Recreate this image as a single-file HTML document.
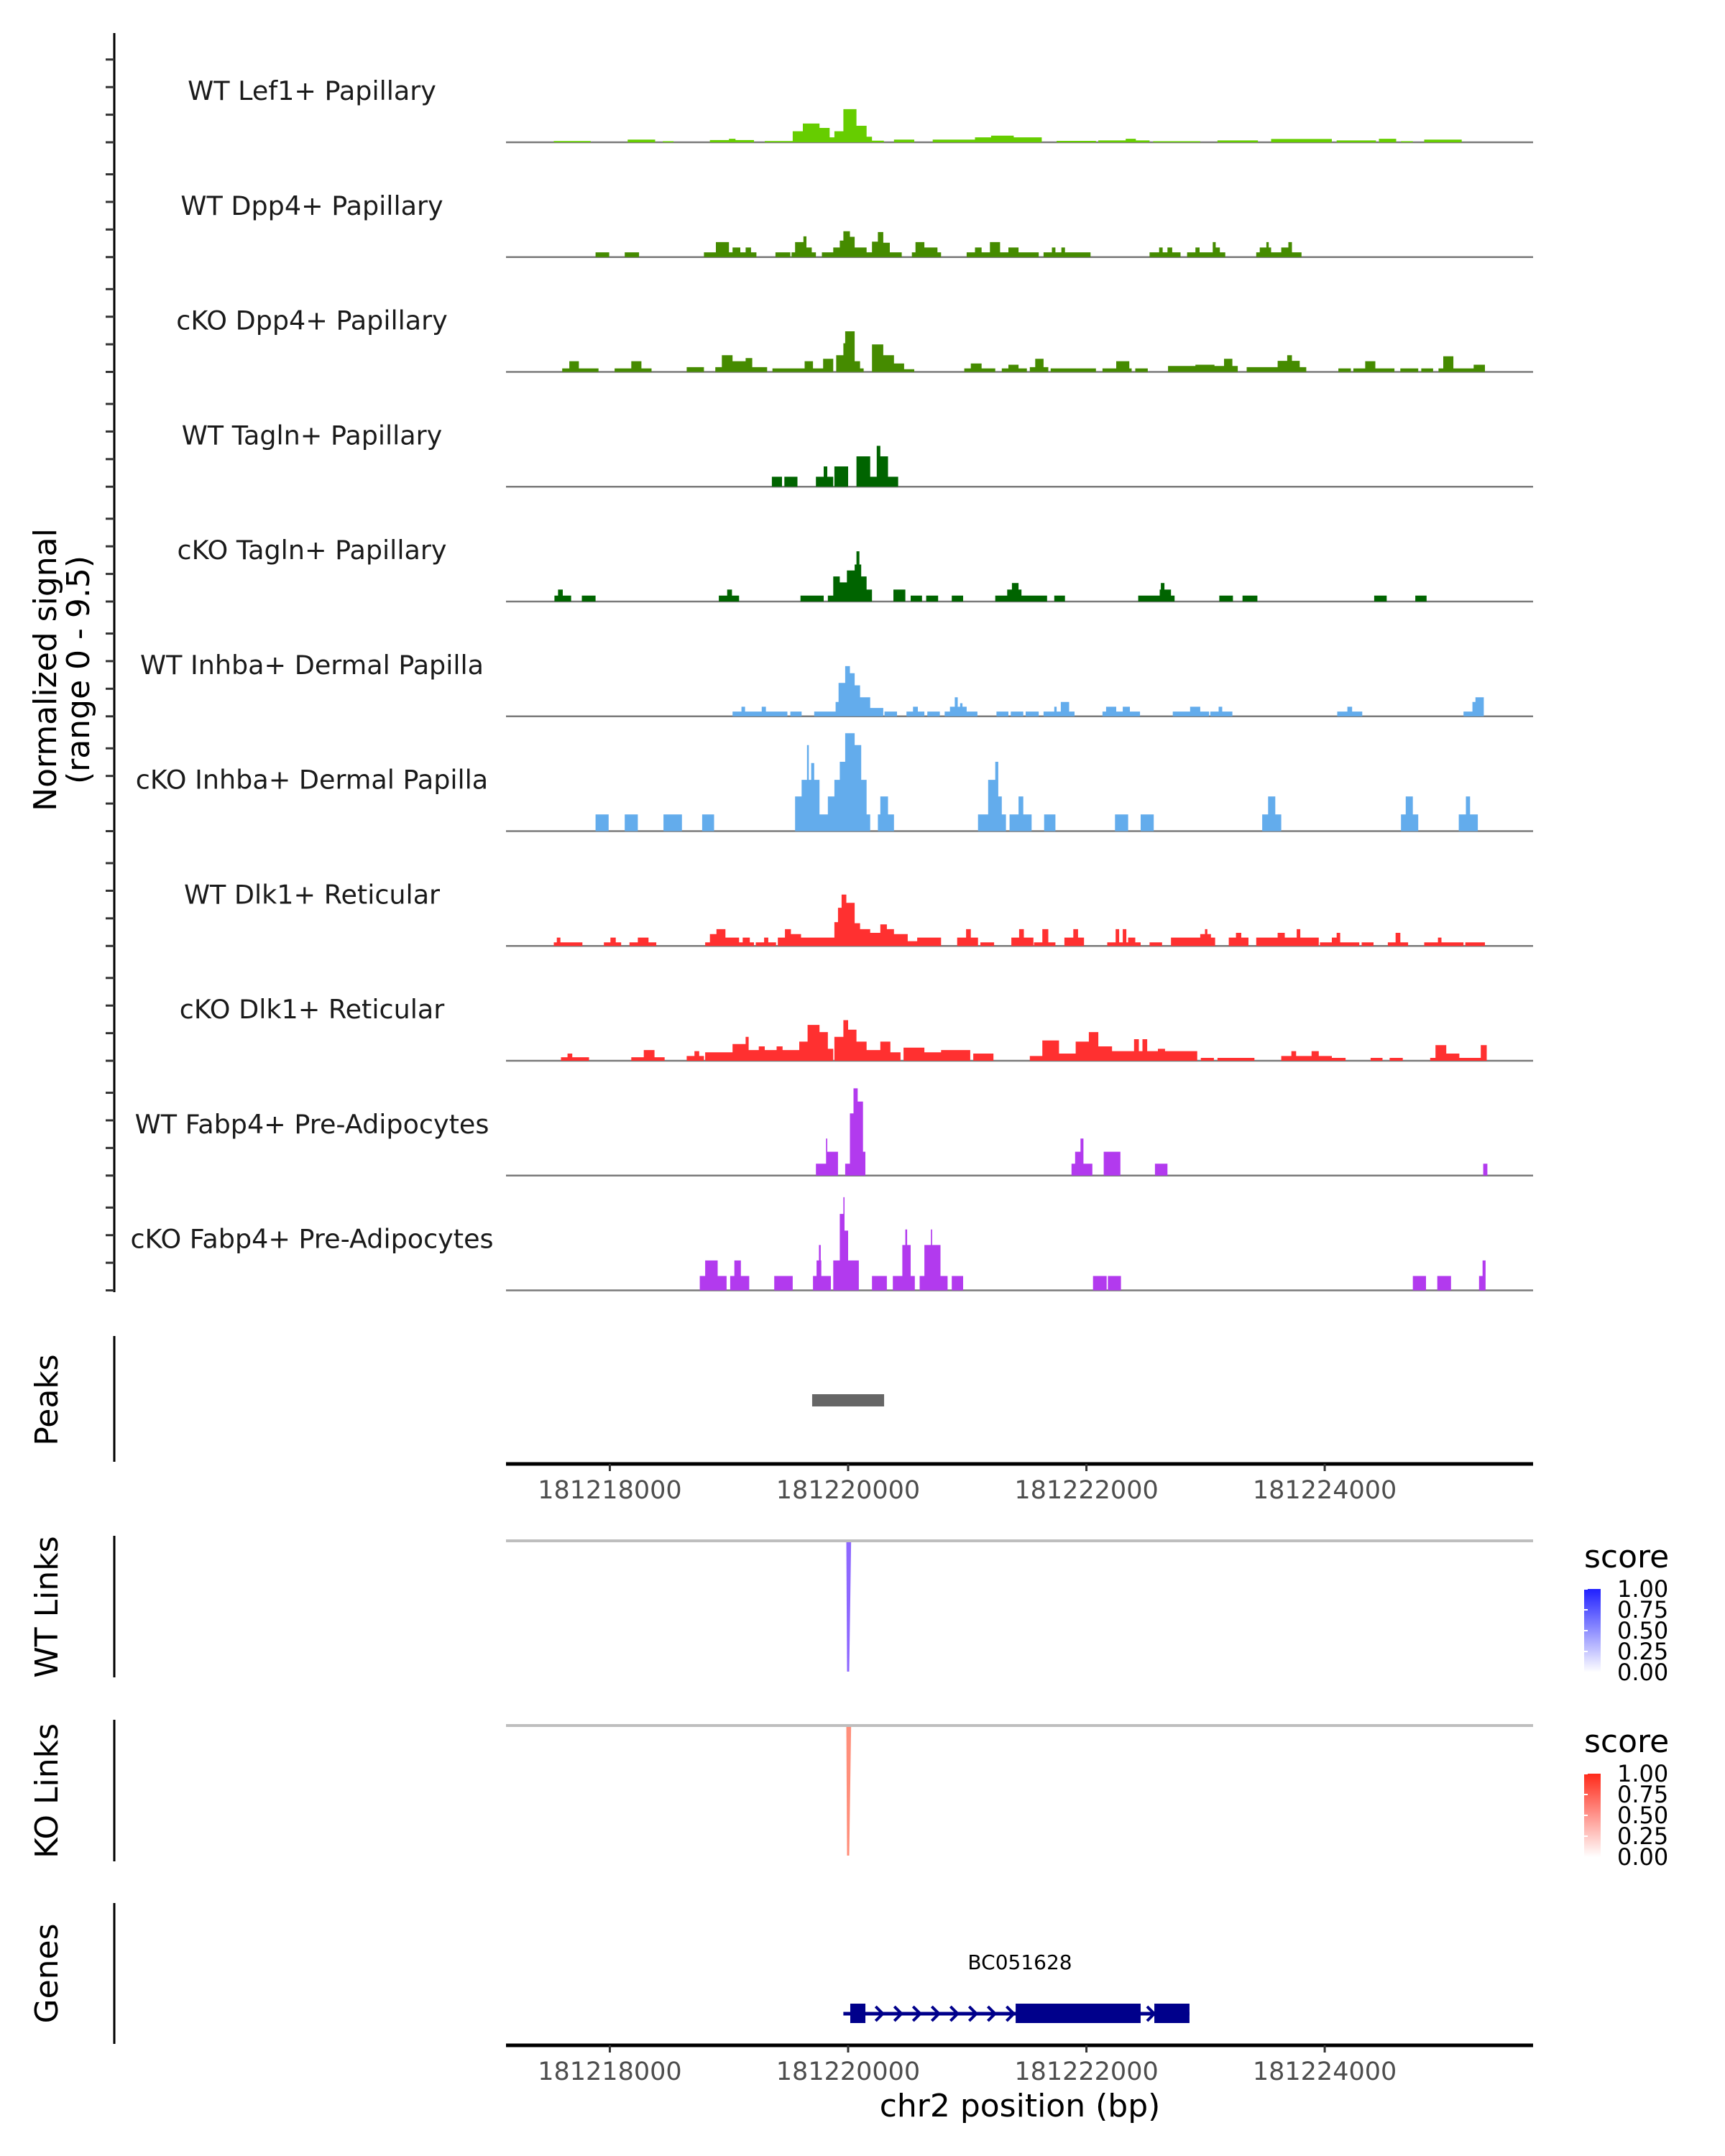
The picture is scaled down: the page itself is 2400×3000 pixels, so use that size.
<!DOCTYPE html>
<html><head><meta charset="utf-8">
<style>
html,body{margin:0;padding:0;background:#fff;}
svg{display:block;font-family:"DejaVu Sans","Liberation Sans",sans-serif;}
</style></head>
<body>
<svg id="chart" xmlns="http://www.w3.org/2000/svg" width="2400" height="3000" viewBox="0 0 2400 3000">
<defs>
<linearGradient id="gradBlue" x1="0" y1="1" x2="0" y2="0"><stop offset="0" stop-color="#ffffff"/><stop offset="1" stop-color="#2020ff"/></linearGradient>
<linearGradient id="gradRed" x1="0" y1="1" x2="0" y2="0"><stop offset="0" stop-color="#ffffff"/><stop offset="1" stop-color="#ff2a1a"/></linearGradient>
</defs>
<g id="tracks"></g>
<g id="lower"></g>
</svg>
<script>
const chromStart = 181217000;
const trackNames = ["WT Lef1+ Papillary","WT Dpp4+ Papillary","cKO Dpp4+ Papillary","WT Tagln+ Papillary","cKO Tagln+ Papillary","WT Inhba+ Dermal Papilla","cKO Inhba+ Dermal Papilla","WT Dlk1+ Reticular","cKO Dlk1+ Reticular","WT Fabp4+ Pre-Adipocytes","cKO Fabp4+ Pre-Adipocytes"];
const trackColors = ["#66cd00","#458b00","#458b00","#006400","#006400","#63acec","#63acec","#ff3030","#ff3030","#b23aee","#b23aee"];
// segments: [startOffset, endOffset, signal]
const wtLef1 = [[530,840,0.12],[1150,1380,0.25],[1445,1535,0.1],[1840,2210,0.2],[2000,2055,0.32],[2300,2535,0.12],[2535,2620,1.0],[2620,2760,1.7],[2760,2845,1.3],[2845,2885,0.45],[2885,2960,1.0],[2960,3070,3.0],[3070,3155,1.5],[3155,3200,0.5],[3200,3300,0.15],[3385,3555,0.25],[3710,4065,0.25],[4065,4625,0.45],[4200,4390,0.6],[4750,5080,0.13],[5100,5530,0.17],[5330,5415,0.32],[5560,5955,0.1],[6100,6440,0.17],[6550,7060,0.3],[7100,7430,0.17],[7455,7600,0.32],[7640,7740,0.1],[7835,8150,0.25]];
const wtDpp4 = [[880,995,.43],[1125,1245,.43],[1790,2230,.43],[1890,2000,1.36],[2030,2095,.87],[2140,2185,.87],[2390,2515,.43],[2525,2730,.43],[2555,2625,1.36],[2625,2650,1.88],[2650,2695,.87],[2780,3450,.43],[2875,2930,.87],[2930,2960,1.5],[2960,3015,2.34],[3015,3055,1.84],[3055,3155,.87],[3200,3250,1.4],[3250,3295,2.27],[3295,3350,1.3],[3535,3780,.43],[3565,3640,1.36],[3640,3750,.87],[3995,4600,.43],[4065,4120,.87],[4190,4275,1.36],[4345,4430,.87],[4640,5035,.43],[4710,4740,.87],[4790,4820,.87],[5530,5790,.43],[5610,5640,.87],[5680,5720,.87],[5845,6165,.43],[5915,5950,.87],[6060,6085,1.36],[6085,6120,.87],[6425,6805,.43],[6455,6550,.87],[6510,6530,1.36],[6635,6720,.87],[6695,6725,1.36]];
const koDpp4 = [[600,905,.32],[660,740,.97],[1040,1350,.32],[1180,1265,.97],[1645,1790,.43],[1885,2320,.43],[1940,2030,1.52],[2030,2140,.97],[2140,2195,1.25],[2365,2590,.32],[2590,2875,.32],[2635,2705,.97],[2790,2875,1.19],[2900,2960,1.52],[2960,2975,2.6],[2975,3055,3.68],[3055,3100,.97],[3100,3130,.32],[3200,3295,2.49],[3295,3385,1.52],[3385,3470,.76],[3470,3555,.25],[3975,4235,.32],[4030,4120,.76],[4290,4500,.32],[4345,4430,.65],[4525,4680,.43],[4570,4640,1.19],[4700,5080,.32],[5135,5380,.32],[5250,5360,.97],[5410,5515,.32],[5685,6270,.54],[5915,6075,.65],[6155,6225,1.19],[6345,6845,.43],[6605,6790,1.0],[6685,6725,1.52],[7115,7220,.32],[7240,7585,.32],[7340,7425,.97],[7635,7785,.32],[7810,7910,.32],[7955,8345,.32],[7995,8080,1.41],[8250,8345,.65]];
const wtTagln = [[2360,2445,.9],[2465,2575,.9],[2730,2875,.9],[2795,2825,1.84],[2885,3000,1.84],[3070,3185,2.75],[3185,3240,.9],[3240,3270,3.7],[3270,3335,2.75],[3335,3420,.9]];
const koTagln = [[535,675,.54],[565,605,1.08],[765,880,.54],[1915,2085,.54],[1985,2025,1.08],[2600,2795,.54],[2830,3200,.54],[2875,2930,2.27],[2930,2990,1.73],[2990,3055,2.81],[3055,3110,3.35],[3070,3095,4.55],[3110,3155,2.27],[3155,3200,1.08],[3380,3480,1.08],[3525,3620,.54],[3655,3755,.54],[3870,3965,.54],[4235,4670,.54],[4335,4455,1.08],[4375,4430,1.67],[4730,4820,.54],[5435,5740,.54],[5615,5710,1.08],[5625,5655,1.67],[6115,6230,.54],[6310,6435,.54],[7415,7520,.54],[7760,7855,.54]];
const wtInhba = [[2030,2395,.43],[2105,2135,.87],[2275,2310,.87],[2395,2490,.43],[2515,2610,.43],[2715,3185,.43],[2895,2920,1.3],[2920,2975,3.03],[2975,3015,4.55],[3015,3055,3.9],[3055,3100,2.81],[3100,3185,1.73],[3185,3295,.76],[3305,3410,.43],[3490,3640,.43],[3545,3585,.87],[3665,3770,.43],[3810,4085,.43],[3855,3995,.87],[3895,3920,1.73],[3940,3960,1.19],[4245,4345,.43],[4365,4470,.43],[4490,4600,.43],[4640,4900,.43],[4730,4750,.87],[4785,4855,1.3],[5135,5450,.43],[5165,5250,.87],[5305,5365,.87],[5725,6030,.43],[5870,5955,.87],[6040,6225,.43],[6110,6140,.87],[7105,7315,.43],[7190,7230,.87],[8165,8335,.43],[8240,8265,1.3],[8265,8335,1.73]];
const koInhba = [[880,990,1.52],[1125,1235,1.52],[1450,1605,1.52],[1775,1875,1.52],[2555,3185,1.52],[2555,2610,3.14],[2610,2715,4.65],[2655,2670,7.79],[2690,2715,6.17],[2715,2760,4.65],[2830,2885,3.14],[2885,2930,4.65],[2930,2975,6.28],[2975,3055,8.87],[3055,3110,7.79],[3110,3155,4.65],[3250,3385,1.52],[3270,3335,3.14],[4090,4325,1.52],[4175,4235,4.65],[4235,4260,6.28],[4260,4290,3.14],[4355,4540,1.52],[4430,4470,3.14],[4645,4740,1.52],[5240,5350,1.52],[5455,5565,1.52],[6475,6635,1.52],[6525,6585,3.14],[7640,7785,1.52],[7680,7740,3.14],[8125,8285,1.52],[8185,8220,3.14]];
const wtDlk1 = [[530,770,.32],[555,585,.76],[950,1095,.32],[1005,1050,.76],[1165,1390,.32],[1235,1325,.76],[1800,2210,.32],[1840,1895,1.08],[1895,1970,1.52],[1970,2085,.76],[2115,2175,.76],[2225,2395,.32],[2295,2330,.76],[2410,2885,.76],[2470,2520,1.52],[2520,2605,1.08],[2885,2915,2.16],[2915,2945,3.46],[2945,2985,4.65],[2985,3055,3.9],[3055,3100,2.06],[3100,3185,1.52],[3185,3270,1.19],[3270,3325,1.95],[3325,3385,1.52],[3385,3500,1.08],[3500,3580,.43],[3580,3780,.76],[3915,4090,.76],[3990,4030,1.52],[4110,4224,.32],[4370,4555,.76],[4435,4475,1.52],[4560,4740,.32],[4630,4680,1.52],[4815,4980,.76],[4890,4930,1.52],[5175,5455,.32],[5245,5275,1.52],[5305,5335,1.52],[5350,5410,.76],[5530,5635,.32],[5710,6080,.76],[5955,6045,1.08],[5995,6015,1.52],[6195,6360,.76],[6255,6300,1.19],[6425,6950,.76],[6605,6665,1.19],[6765,6795,1.52],[6960,7290,.32],[7060,7120,.76],[7100,7130,1.19],[7310,7410,.32],[7530,7700,.32],[7595,7635,1.19],[7835,8165,.32],[7950,7980,.76],[8180,8345,.32]];
const koDlk1 = [[590,825,.32],[645,685,.65],[1180,1460,.32],[1285,1375,.97],[1645,1790,.43],[1710,1750,.87],[1800,2030,.76],[2030,2140,1.52],[2140,2165,2.16],[2165,2590,.97],[2250,2300,1.3],[2400,2450,1.3],[2590,2660,1.73],[2660,2760,3.25],[2760,2830,2.6],[2830,2875,1.08],[2885,2960,2.16],[2960,3000,3.68],[3000,3070,2.81],[3070,3155,1.73],[3155,3270,.97],[3270,3355,1.73],[3355,3440,.76],[3465,3640,1.19],[3640,3780,.76],[3780,4025,.97],[4050,4220,.65],[4525,4630,.43],[4630,4770,1.84],[4770,4910,.65],[4910,5020,1.73],[5020,5100,2.6],[5100,5215,1.3],[5215,5930,.87],[5400,5440,1.95],[5470,5510,1.95],[5600,5660,1.08],[5960,6070,.26],[6100,6410,.26],[6635,7060,.43],[6720,6760,.87],[6890,6950,.87],[7060,7175,.26],[7385,7485,.26],[7545,7655,.26],[7885,8360,.26],[7930,8020,1.41],[8020,8130,.65],[8310,8360,1.41]];
const wtFabp4 = [[2730,2915,1.08],[2815,2825,3.35],[2825,2915,2.16],[2975,3145,1.08],[3015,3045,5.63],[3045,3080,7.9],[3080,3125,6.71],[3125,3145,2.16],[4875,5050,1.08],[4905,4950,2.16],[4950,4975,3.35],[5145,5285,2.16],[5575,5680,1.08],[8330,8365,1.08]];
const koFabp4 = [[1755,1980,1.3],[1800,1905,2.71],[2010,2170,1.3],[2045,2100,2.71],[2380,2535,1.3],[2705,2855,1.3],[2735,2775,2.71],[2755,2770,4.11],[2875,3090,2.71],[2930,2960,6.93],[2960,2970,8.44],[2970,3000,5.41],[3200,3325,1.3],[3375,3560,1.3],[3455,3525,4.11],[3480,3495,5.52],[3600,3835,1.3],[3640,3695,4.11],[3695,3705,5.52],[3705,3775,4.11],[3870,3965,1.3],[5055,5170,1.3],[5180,5290,1.3],[7740,7850,1.3],[7945,8060,1.3],[8295,8350,1.3],[8325,8350,2.71]];
const trackData = [wtLef1,wtDpp4,koDpp4,wtTagln,koTagln,wtInhba,koInhba,wtDlk1,koDlk1,wtFabp4,koFabp4];
const xTicks = [181218000,181220000,181222000,181224000];
const peaks = [[181219698,181220302]];
const wtLinks = [[181220000,181220010,0.85]];
const koLinks = [[181220000,181220010,0.75]];
const geneExons = [[181220018,181220145],[181221406,181222455],[181222570,181222865]];
const geneSpan = [181219960,181222865];
const legendTicks = ["1.00","0.75","0.50","0.25","0.00"];

const NS = "http://www.w3.org/2000/svg";
function mk(tag, attrs, parent){const e=document.createElementNS(NS,tag);for(const k in attrs)e.setAttribute(k,attrs[k]);parent.appendChild(e);return e;}
const X0 = 704, X1 = 2133;
function xs(bp){return 1180 + (bp - 181220000) * 0.16577;}
const unitPx = 15.36;
function baseY(i){return 198 + i * 159.75;}

const tg = document.getElementById('tracks');
let ax = mk('line',{x1:159,y1:46,x2:159,y2:1798,stroke:'#000','stroke-width':3},tg);


let yt = mk('text',{x:0,y:0,'font-size':44,'text-anchor':'middle',transform:'translate(78,932) rotate(-90)'},tg);
yt.textContent = 'Normalized signal';


let yt2 = mk('text',{x:0,y:0,'font-size':44,'text-anchor':'middle',transform:'translate(124,932) rotate(-90)'},tg);
yt2.textContent = '(range 0 - 9.5)';



trackData.forEach((segs, i) => {
  const by = baseY(i);
  const g = mk('g',{},tg);
  
  
  for (let k = 0; k < 4; k++) {
    const ty = by - k * 2.5 * unitPx;
    const t = mk('line',{x1:147,y1:ty,x2:159,y2:ty,stroke:'#333','stroke-width':3},g);
    
    
  }
  const bl = mk('line',{x1:X0,y1:by,x2:X1,y2:by,stroke:'#7a7a7a','stroke-width':2.5},g);
  
  
  let d = 'M' + X0 + ' ' + by;
  let prev = 0;
  for (let off = 100; off <= 8760; off += 5) {
    let v = 0;
    for (const s of segs) if (off >= s[0] && off < s[1] && s[2] > v) v = s[2];
    const x = xs(chromStart + off).toFixed(1);
    if (v !== prev) { d += ' L' + x + ' ' + (by - prev * unitPx).toFixed(1); }
    d += ' L' + x + ' ' + (by - v * unitPx).toFixed(1);
    prev = v;
  }
  d += ' L' + X1 + ' ' + by + ' Z';
  const p = mk('path',{d:d,fill:trackColors[i],stroke:'none'},g);
  
  
  const lab = mk('text',{x:434,y:by-59,'font-size':36.5,'text-anchor':'middle',fill:'#1a1a1a'},g);
  lab.textContent = trackNames[i];
  
  
});

const lg = document.getElementById('lower');
function panelAxis(y1,y2,title,ty,name){
  const l = mk('line',{x1:159,y1:y1,x2:159,y2:y2,stroke:'#000','stroke-width':3},lg);
  
  
  const t = mk('text',{x:0,y:0,'font-size':44,'text-anchor':'middle',transform:'translate(80,'+ty+') rotate(-90)'},lg);
  t.textContent = title;
  
  
}
function xAxis(y,name){
  const l = mk('line',{x1:X0,y1:y,x2:X1,y2:y,stroke:'#000','stroke-width':5},lg);
  
  
  xTicks.forEach(t => {
    const tk = mk('line',{x1:xs(t),y1:y,x2:xs(t),y2:y+10,stroke:'#333','stroke-width':3},lg);
    
    
    const tl = mk('text',{x:xs(t),y:y+48,'font-size':35,'text-anchor':'middle',fill:'#4d4d4d'},lg);
    tl.textContent = String(t);
    
    
  });
}
panelAxis(1859,2034,'Peaks',1948,'peaks');
peaks.forEach(pk => {
  const r = mk('rect',{x:xs(pk[0]),y:1940,width:xs(pk[1])-xs(pk[0]),height:17,fill:'#666'},lg);
  
  
});
xAxis(2037,'x-axis-top');

function linksPanel(y1,y2,gy,endY,title,ty,name,links,col,grad,lgY){
  panelAxis(y1,y2,title,ty,name);
  const gl = mk('line',{x1:X0,y1:gy,x2:X1,y2:gy,stroke:'#bebebe','stroke-width':4},lg);
  
  
  links.forEach(lk => {
    const xa = xs(lk[0]), xb = xs(lk[1]);
    const p = mk('path',{d:'M'+(xa-2.5)+' '+(gy+2)+' L'+(xb+2.5)+' '+(gy+2)+' L'+(xa+1.5)+' '+endY+' L'+(xa-1.5)+' '+endY+' Z',fill:col,opacity:lk[2]},lg);
    
    
  });
  const st = mk('text',{x:2204,y:lgY-30,'font-size':44,fill:'#000'},lg);
  st.textContent = 'score';
  
  
  const bar = mk('rect',{x:2204,y:lgY,width:23,height:116,fill:'url(#'+grad+')'},lg);
  
  
  legendTicks.forEach((t,k) => {
    const yy = lgY + k * 29;
    const tm = mk('line',{x1:2204,y1:yy,x2:2209,y2:yy,stroke:'#fff','stroke-width':2},lg);
    
    
    const tl = mk('text',{x:2250,y:yy+11,'font-size':32,fill:'#000'},lg);
    tl.textContent = t;
    
    
  });
}
linksPanel(2137,2334,2144,2326,'WT Links',2236,'wt-links',wtLinks,'#7a4dff','gradBlue',2211);
linksPanel(2393,2590,2401,2582,'KO Links',2492,'ko-links',koLinks,'#ff6a4f','gradRed',2468);

panelAxis(2648,2844,'Genes',2746,'genes');
const gy = 2802;
const gl2 = mk('line',{x1:xs(geneSpan[0]),y1:gy,x2:xs(geneSpan[1]),y2:gy,stroke:'#00008b','stroke-width':5},lg);


for (let bp = geneSpan[0] + 150; bp < geneExons[1][0]; bp += 157) {
  const x = xs(bp);
  const c = mk('path',{d:'M'+(x-6)+' '+(gy-10)+' L'+(x+4)+' '+gy+' L'+(x-6)+' '+(gy+10),stroke:'#00008b','stroke-width':4,fill:'none'},lg);
  
  
}
{
  const x = xs(geneExons[1][1]) + 15;
  const c = mk('path',{d:'M'+(x-6)+' '+(gy-10)+' L'+(x+4)+' '+gy+' L'+(x-6)+' '+(gy+10),stroke:'#00008b','stroke-width':4,fill:'none'},lg);
  
  
}
geneExons.forEach(ex => {
  const r = mk('rect',{x:xs(ex[0]),y:2788,width:xs(ex[1])-xs(ex[0]),height:27,fill:'#00008b'},lg);
  
  
});
const gn = mk('text',{x:1419,y:2740,'font-size':28,'text-anchor':'middle',fill:'#000'},lg);
gn.textContent = 'BC051628';


xAxis(2846,'x-axis-bottom');
const xt = mk('text',{x:1419,y:2945,'font-size':44,'text-anchor':'middle',fill:'#000'},lg);
xt.textContent = 'chr2 position (bp)';


</script>
</body></html>
